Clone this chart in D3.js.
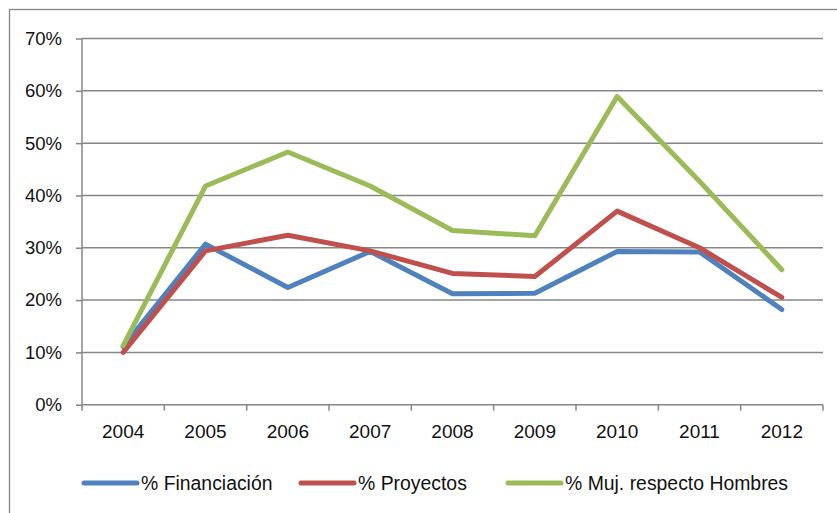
<!DOCTYPE html>
<html>
<head>
<meta charset="utf-8">
<script src="https://cdn.jsdelivr.net/npm/d3@7"></script>
<style>
  html, body { margin: 0; padding: 0; background: #fff; }
  svg { display: block; font-family: "Liberation Sans", Arial, sans-serif; }
</style>
</head>
<body>
<div class="chart"></div>
<script>
// data
const years = ['2004','2005','2006','2007','2008','2009','2010','2011','2012'];
const financiacion = [0.111, 0.307, 0.224, 0.293, 0.212, 0.213, 0.293, 0.292, 0.182];
const proyectos    = [0.100, 0.294, 0.324, 0.294, 0.251, 0.245, 0.370, 0.300, 0.205];
const mujHombres   = [0.113, 0.418, 0.483, 0.418, 0.333, 0.323, 0.589, 0.427, 0.258];
const yTicks = [0, 0.1, 0.2, 0.3, 0.4, 0.5, 0.6, 0.7];
const seriesNames = ['% Financiación', '% Proyectos', '% Muj. respecto Hombres'];
const seriesColors = ['#4F81BD', '#C0504D', '#9BBB59'];

const series = [financiacion, proyectos, mujHombres].map((vals, i) => ({
  name: seriesNames[i], color: seriesColors[i],
  values: vals.map((v, j) => ({ year: years[j], v }))
}));

const width = 837, height = 513;
const plot = { left: 82, right: 823, top: 38.5, bottom: 404.7 };
const grey = '#868686';
const textCol = '#111';

const svg = d3.select('div.chart').append('svg')
  .attr('width', width).attr('height', height);

// outer chart border (runs off the right and bottom of the picture)
svg.append('rect')
  .attr('x', 9.5).attr('y', 9.5)
  .attr('width', 900).attr('height', 600)
  .attr('fill', 'none').attr('stroke', grey).attr('stroke-width', 1.3);

const x = d3.scaleBand().domain(years).range([plot.left, plot.right]);
const y = d3.scaleLinear().domain([0, 0.7]).range([plot.bottom, plot.top]);

// gridlines
svg.append('g').selectAll('line')
  .data(yTicks.filter(t => t > 0))
  .enter().append('line')
    .attr('x1', plot.left).attr('x2', plot.right)
    .attr('y1', d => y(d)).attr('y2', d => y(d))
    .attr('stroke', grey).attr('stroke-width', 1.5);

// y axis
const yAxis = d3.axisLeft(y).tickValues(yTicks).tickFormat(d3.format('.0%'))
  .tickSize(6).tickPadding(14);
const gy = svg.append('g').attr('transform', `translate(${plot.left},0)`).call(yAxis);
gy.select('.domain').attr('stroke', grey).attr('stroke-width', 1.5).attr('d', `M0,${plot.top}V${plot.bottom}`);
gy.selectAll('.tick line').attr('stroke', grey).attr('stroke-width', 1.5);
gy.selectAll('.tick text').attr('font-size', 18.5).attr('fill', textCol)
  .attr('font-family', '"Liberation Sans", Arial, sans-serif');

// x axis: ticks sit on band boundaries
const xAxis = d3.axisBottom(x).tickSize(0).tickPadding(20);
const gx = svg.append('g').attr('transform', `translate(0,${plot.bottom})`).call(xAxis);
gx.select('.domain').attr('stroke', grey).attr('stroke-width', 1.5).attr('d', `M${plot.left},0H${plot.right}`);
gx.selectAll('.tick text').attr('font-size', 19).attr('fill', textCol)
  .attr('font-family', '"Liberation Sans", Arial, sans-serif');
gx.selectAll('line.band-tick')
  .data(years.map(yr => x(yr)).concat([plot.right]))
  .enter().append('line')
    .attr('class', 'band-tick')
    .attr('x1', d => d).attr('x2', d => d)
    .attr('y1', 0).attr('y2', 6)
    .attr('stroke', grey).attr('stroke-width', 1.5);

// lines
const line = d3.line()
  .x(d => x(d.year) + x.bandwidth() / 2)
  .y(d => y(d.v));

svg.append('g').selectAll('path.series')
  .data(series)
  .enter().append('path')
    .attr('class', 'series')
    .attr('d', d => line(d.values))
    .attr('fill', 'none')
    .attr('stroke', d => d.color)
    .attr('stroke-width', 5)
    .attr('stroke-linejoin', 'round')
    .attr('stroke-linecap', 'round');

// legend
const legendX = [84, 301, 508];
const legend = svg.append('g').selectAll('g.legend')
  .data(series)
  .enter().append('g')
    .attr('class', 'legend')
    .attr('transform', (d, i) => `translate(${legendX[i]},483)`);
legend.append('line')
  .attr('x1', 0).attr('x2', 53).attr('y1', 0).attr('y2', 0)
  .attr('stroke', d => d.color).attr('stroke-width', 5).attr('stroke-linecap', 'round');
legend.append('text')
  .attr('x', 57).attr('y', 0).attr('dy', '0.35em')
  .attr('font-size', 19.4).attr('fill', textCol)
  .text(d => d.name);
</script>
</body>
</html>
